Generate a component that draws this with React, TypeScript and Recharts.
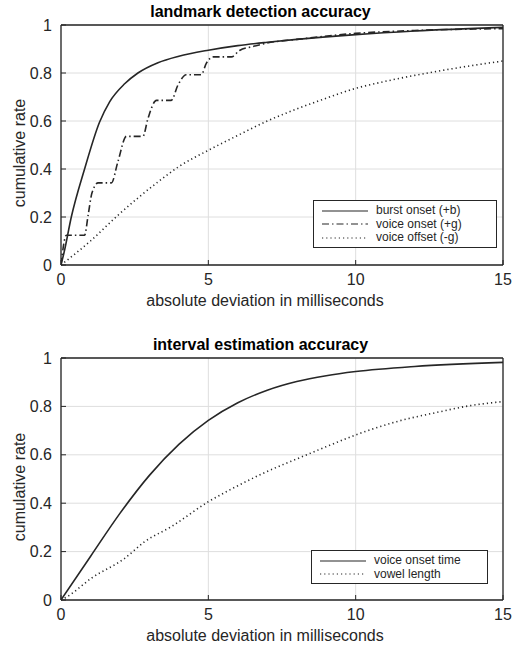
import * as React from 'react'
import { LineChart, Line, XAxis, YAxis, CartesianGrid, Legend } from 'recharts'

const xTicks = [0, 5, 10, 15]
const yTicks = [0, 0.2, 0.4, 0.6, 0.8, 1]

const topTitle = 'landmark detection accuracy'
const bottomTitle = 'interval estimation accuracy'
const xLabel = 'absolute deviation in milliseconds'
const yLabel = 'cumulative rate'

// [ms, rate] pairs
const burstOnset = [
  [0, 0], [0.1, 0.05], [0.35, 0.2], [0.8, 0.4], [1.31, 0.596], [1.65, 0.68],
  [2.16, 0.755], [2.61, 0.8], [3.29, 0.843], [4, 0.87], [5, 0.895], [6, 0.914],
  [7, 0.928], [8, 0.94], [10, 0.96], [12, 0.975], [15, 0.99],
]
const voiceOnset = [
  [0, 0], [0.18, 0.124], [0.8, 0.124], [0.92, 0.207], [1.05, 0.3], [1.26, 0.342],
  [1.71, 0.342], [1.93, 0.43], [2.22, 0.536], [2.78, 0.536], [2.95, 0.61],
  [3.24, 0.686], [3.74, 0.686], [3.97, 0.75], [4.25, 0.793], [4.76, 0.793],
  [4.93, 0.84], [5.16, 0.867], [5.78, 0.867], [6.06, 0.894], [6.5, 0.91],
  [7, 0.925], [8, 0.94], [10, 0.965], [12, 0.977], [15, 0.985],
]
const voiceOffset = [
  [0, 0], [1, 0.1], [1.93, 0.207], [3.29, 0.346], [4, 0.41], [5, 0.478],
  [6, 0.54], [7, 0.6], [8, 0.65], [9, 0.695], [10, 0.736], [11, 0.765],
  [12, 0.79], [13, 0.812], [14, 0.832], [15, 0.85],
]
const voiceOnsetTime = [
  [0, 0], [1, 0.18], [2, 0.358], [3, 0.515], [4, 0.643], [5, 0.742], [6, 0.815],
  [7, 0.867], [8, 0.903], [9, 0.927], [10, 0.944], [12, 0.965], [15, 0.982],
]
const vowelLength = [
  [0, 0], [0.24, 0.016], [1.03, 0.09], [2.16, 0.172], [2.84, 0.241], [3.74, 0.303],
  [5, 0.406], [5.73, 0.455], [6.87, 0.524], [8.34, 0.6], [9.13, 0.64], [10, 0.682],
  [11.39, 0.737], [12.75, 0.775], [13.88, 0.803], [15, 0.82],
]

const INK = '#262626'
const GRID = '#dedede'
const FONT = '"Liberation Sans", Arial, Helvetica, sans-serif'
const DASHDOT = '7 3 1.5 3'
const DOTTED = '1.2 3'

const toPoints = (pairs: number[][]) => pairs.map(([x, y]) => ({ x, y }))

const topSeries = [
  { name: 'burst onset (+b)', data: burstOnset, dash: undefined },
  { name: 'voice onset (+g)', data: voiceOnset, dash: DASHDOT },
  { name: 'voice offset (-g)', data: voiceOffset, dash: DOTTED },
]
const bottomSeries = [
  { name: 'voice onset time', data: voiceOnsetTime, dash: undefined },
  { name: 'vowel length', data: vowelLength, dash: DOTTED },
]

const fmt = (v: number) => String(v)

const YTitle = (props: any) => {
  const vb = props.viewBox
  const cy = vb.y + vb.height / 2 + 8
  return (
    <text x={19} y={cy} transform={`rotate(-90, 19, ${cy})`} textAnchor="middle"
      dominantBaseline="central" fill={INK} fontSize={16} fontFamily={FONT}>
      {yLabel}
    </text>
  )
}

const XTitle = (props: any) => {
  const vb = props.viewBox
  return (
    <text x={vb.x + vb.width / 2 - 17} y={vb.y + 35} textAnchor="middle"
      dominantBaseline="central" fill={INK} fontSize={16} fontFamily={FONT}>
      {xLabel}
    </text>
  )
}

const Panel = ({ title, titleY, series, top, height, marginTop, marginBottom, legendBox }: any) => {
  const order = (name: string) => series.findIndex((d: any) => d.name === name)
  const renderLegend = (props: any) => {
    const items = [...(props.payload || [])].sort((a: any, b: any) => order(a.value) - order(b.value))
    return (
      <div style={{
        width: legendBox.width, height: legendBox.height, boxSizing: 'border-box',
        border: `1px solid ${INK}`, background: '#fff', padding: '3px 6px',
        fontFamily: FONT, fontSize: 12, color: INK,
      }}>
        {items.map((entry: any) => {
          const s = series[order(entry.value)]
          return (
            <div key={entry.value} style={{ display: 'flex', alignItems: 'center', height: 13.5 }}>
              <svg width={50} height={10} style={{ marginRight: 6, flex: 'none' }}>
                <line x1={2} y1={5} x2={48} y2={5} stroke={INK} strokeWidth={1.2}
                  strokeDasharray={s ? s.dash : undefined} />
              </svg>
              <span style={{ lineHeight: '13.5px' }}>{entry.value}</span>
            </div>
          )
        })}
      </div>
    )
  }

  return (
    <div style={{ position: 'absolute', left: 0, top, width: 521, height }}>
      <div style={{
        position: 'absolute', left: 0, width: 521, top: titleY - 9, textAlign: 'center',
        fontFamily: FONT, fontWeight: 'bold', fontSize: 16, lineHeight: '18px', color: '#000',
      }}>
        {title}
      </div>
      <LineChart width={521} height={height}
        margin={{ top: marginTop, right: 13, bottom: marginBottom, left: 0 }}
        style={{ fontFamily: FONT }}>
        <CartesianGrid stroke={GRID} strokeWidth={1} />
        <XAxis type="number" dataKey="x" domain={[0, 15]} ticks={xTicks} height={40}
          allowDataOverflow tickFormatter={fmt} tickSize={-5} tickMargin={14}
          axisLine={{ stroke: INK, strokeWidth: 1.3 }} tickLine={{ stroke: INK }}
          tick={{ fill: INK, fontSize: 16, fontFamily: FONT }}
          label={{ value: xLabel, content: XTitle }} />
        <XAxis xAxisId="top" orientation="top" type="number" domain={[0, 15]} ticks={xTicks}
          height={5} tickSize={-5} tickFormatter={() => ''}
          axisLine={{ stroke: INK, strokeWidth: 1.3 }} tickLine={{ stroke: INK }} />
        <YAxis type="number" domain={[0, 1]} ticks={yTicks} width={61}
          tickFormatter={fmt} tickSize={-5} tickMargin={14}
          axisLine={{ stroke: INK, strokeWidth: 1.3 }} tickLine={{ stroke: INK }}
          tick={{ fill: INK, fontSize: 16, fontFamily: FONT }}
          label={{ value: yLabel, content: YTitle }} />
        <YAxis yAxisId="right" orientation="right" type="number" domain={[0, 1]} ticks={yTicks}
          width={5} tickSize={-5} tickFormatter={() => ''}
          axisLine={{ stroke: INK, strokeWidth: 1.3 }} tickLine={{ stroke: INK }} />
        {series.map((s: any) => (
          <Line key={s.name} name={s.name} data={toPoints(s.data)} dataKey="y"
            type="monotone" stroke={INK} strokeWidth={1.6} strokeDasharray={s.dash}
            dot={false} activeDot={false} isAnimationActive={false} />
        ))}
        <Legend layout="horizontal" verticalAlign="middle" align="center"
          wrapperStyle={{ left: legendBox.left, top: legendBox.top, width: legendBox.width }}
          content={renderLegend} />
      </LineChart>
    </div>
  )
}

export default function App() {
  return (
    <div style={{ position: 'absolute', left: 0, top: 0, width: 521, height: 645, background: '#fff' }}>
      <Panel title={topTitle} titleY={12} series={topSeries} top={0} height={320}
        marginTop={20} marginBottom={15}
        legendBox={{ left: 313, top: 200, width: 184, height: 48 }} />
      <Panel title={bottomTitle} titleY={15} series={bottomSeries} top={330} height={315}
        marginTop={23} marginBottom={5}
        legendBox={{ left: 311, top: 220, width: 177, height: 34 }} />
    </div>
  )
}
